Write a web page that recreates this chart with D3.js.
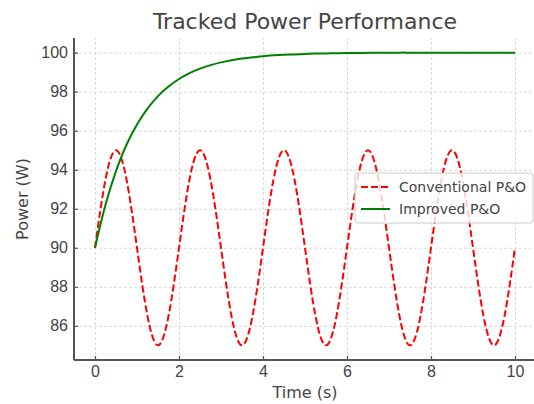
<!DOCTYPE html>
<html lang="en">
<head>
  <meta charset="UTF-8">
  <title>Tracked Power Performance</title>
  <script src="https://d3js.org/d3.v7.min.js"></script>
  <style>
    body { margin: 0; background: #fff; }
    svg { font-family: "DejaVu Sans", sans-serif; display: block; }
    .grid line { stroke: #d0d0d0; stroke-dasharray: 3,2; stroke-width: 0.8; }
    .grid .domain { display: none; }
    .axis text { fill: #444; font-size: 16px; }
    .axis line { stroke: #555; stroke-width: 1.2; }
  </style>
</head>
<body>
<svg id="chart"></svg>
<script>
  const time = [0, 0.25, 0.5, 0.75, 1, 1.25, 1.5, 1.75, 2, 2.25, 2.5, 2.75, 3, 3.25, 3.5, 3.75,
    4, 4.25, 4.5, 4.75, 5, 5.25, 5.5, 5.75, 6, 6.25, 6.5, 6.75, 7, 7.25, 7.5, 7.75,
    8, 8.25, 8.5, 8.75, 9, 9.25, 9.5, 9.75, 10];
  const conventional = [90, 93.5, 95, 93.5, 90, 86.5, 85, 86.5, 90, 93.5, 95, 93.5, 90, 86.5, 85, 86.5,
    90, 93.5, 95, 93.5, 90, 86.5, 85, 86.5, 90, 93.5, 95, 93.5, 90, 86.5, 85, 86.5,
    90, 93.5, 95, 93.5, 90, 86.5, 85, 86.5, 90];
  const improved = [90, 92.21, 93.93, 95.28, 96.32, 97.13, 97.77, 98.26, 98.65, 98.95, 99.18, 99.36, 99.5, 99.61, 99.7, 99.76,
    99.82, 99.86, 99.89, 99.91, 99.93, 99.95, 99.96, 99.97, 99.98, 99.98, 99.99, 99.99, 99.99, 100, 100, 100,
    100, 100, 100, 100, 100, 100, 100, 100, 100];
  const xTicks = [0, 2, 4, 6, 8, 10];
  const yTicks = [86, 88, 90, 92, 94, 96, 98, 100];
  const seriesNames = ["Conventional P&O", "Improved P&O"];

  const W = 534, H = 404;
  const margin = { top: 38, right: -2, bottom: 44, left: 74 };
  const width = W - margin.left - margin.right;
  const height = H - margin.top - margin.bottom;

  const svg = d3.select("#chart").attr("width", W).attr("height", H);
  const g = svg.append("g").attr("transform", "translate(" + margin.left + "," + margin.top + ")");

  const x = d3.scaleLinear().domain([-0.5, 10.5]).range([0, width]);
  const y = d3.scaleLinear().domain([84.25, 100.75]).range([height, 0]);

  // grid
  g.append("g").attr("class", "grid")
    .attr("transform", "translate(0," + height + ")")
    .call(d3.axisBottom(x).tickValues(xTicks).tickSize(-height).tickFormat(""));
  g.append("g").attr("class", "grid")
    .call(d3.axisLeft(y).tickValues(yTicks).tickSize(-width).tickFormat(""));

  // lines
  const rows = time.map((t, i) => ({ t: t, c: conventional[i], p: improved[i] }));
  const lineC = d3.line().x(d => x(d.t)).y(d => y(d.c)).curve(d3.curveNatural);
  const lineP = d3.line().x(d => x(d.t)).y(d => y(d.p)).curve(d3.curveCatmullRom.alpha(0.5));

  g.append("path").datum(rows)
    .attr("d", lineC)
    .attr("fill", "none")
    .attr("stroke", "#ff0000")
    .attr("stroke-width", 2)
    .attr("stroke-dasharray", "7,3");
  g.append("path").datum(rows)
    .attr("d", lineP)
    .attr("fill", "none")
    .attr("stroke", "#008000")
    .attr("stroke-width", 2);

  // axes (ticks point inward)
  const xAxis = g.append("g").attr("class", "axis")
    .attr("transform", "translate(0," + height + ")")
    .call(d3.axisBottom(x).tickValues(xTicks).tickSize(-4).tickPadding(6).tickFormat(d3.format("d")));
  const yAxis = g.append("g").attr("class", "axis")
    .call(d3.axisLeft(y).tickValues(yTicks).tickSize(-4).tickPadding(6).tickFormat(d3.format("d")));
  xAxis.select(".domain").attr("stroke", "#555").attr("stroke-width", 2).attr("d", "M0,0H" + width);
  yAxis.select(".domain").attr("stroke", "#555").attr("stroke-width", 2).attr("d", "M0," + height + "V0");

  // title and labels
  svg.append("text")
    .attr("x", margin.left + width / 2).attr("y", 29)
    .attr("text-anchor", "middle")
    .style("font-size", "22px").style("fill", "#444")
    .text("Tracked Power Performance");
  svg.append("text")
    .attr("x", margin.left + width / 2).attr("y", 398)
    .attr("text-anchor", "middle")
    .style("font-size", "16px").style("fill", "#444")
    .text("Time (s)");
  svg.append("text")
    .attr("transform", "translate(28," + (margin.top + height / 2) + ") rotate(-90)")
    .attr("text-anchor", "middle")
    .style("font-size", "16px").style("fill", "#444")
    .text("Power (W)");

  // legend
  const lg = svg.append("g").attr("transform", "translate(355,173)");
  lg.append("rect")
    .attr("width", 178).attr("height", 50).attr("rx", 3)
    .attr("fill", "#fff").attr("fill-opacity", 0.8)
    .attr("stroke", "#ccc");
  const styles = [{ stroke: "#ff0000", dash: "7,3" }, { stroke: "#008000", dash: null }];
  seriesNames.forEach((name, i) => {
    const row = lg.append("g").attr("transform", "translate(0," + (14 + i * 22) + ")");
    row.append("line")
      .attr("x1", 6).attr("x2", 35)
      .attr("stroke", styles[i].stroke).attr("stroke-width", 2)
      .attr("stroke-dasharray", styles[i].dash);
    row.append("text")
      .attr("x", 44).attr("dy", "0.35em")
      .style("font-size", "14px").style("fill", "#444")
      .text(name);
  });
</script>
</body>
</html>
